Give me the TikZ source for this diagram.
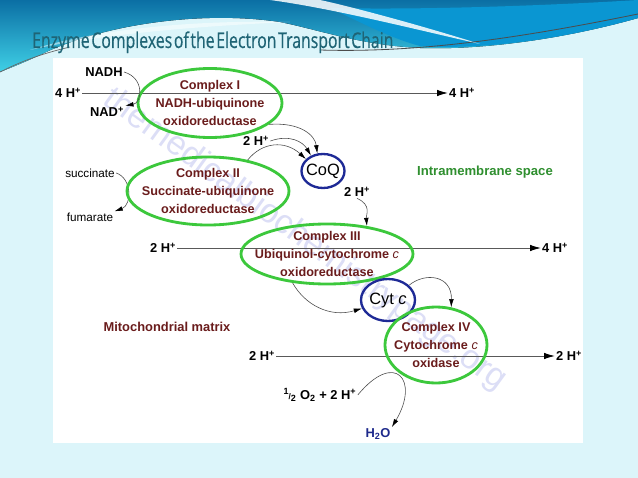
\documentclass[tikz,border=0pt]{standalone}
\usepackage{fontspec}
\setmainfont{Liberation Sans}
\newfontfamily\titlefont[FakeStretch=0.73, FakeBold=0.4, WordSpace=0.4]{Open Sans}
\usetikzlibrary{shapes.geometric,arrows.meta}
\definecolor{bgcyan}{HTML}{DCF5FA}
\definecolor{wavetop}{HTML}{0B6FA4}
\definecolor{wavedark}{HTML}{0A96D2}
\definecolor{wavemid}{HTML}{14A9C8}
\definecolor{wavelight}{HTML}{3FD0E6}
\definecolor{titleteal}{HTML}{1F6475}
\definecolor{cgreen}{HTML}{3CC83C}
\definecolor{cblue}{HTML}{1E2A96}
\definecolor{cred}{HTML}{6A1C1C}
\definecolor{cnavy}{HTML}{1E2A8C}
\definecolor{spacegreen}{HTML}{2F8F2F}
\definecolor{wmark}{HTML}{DCDEF6}
\tikzset{
    complex/.style={ellipse, draw=cgreen, line width=2.4pt,
        inner xsep=-10pt, inner ysep=-3pt, align=center, text=cred,
        font=\bfseries\fontsize{10.8}{15}\selectfont},
    carrier/.style={ellipse, draw=cblue, line width=2pt,
        inner xsep=-4pt, inner ysep=0pt, font=\fontsize{14}{16}\selectfont},
    lbl/.style={inner sep=1pt, font=\bfseries\fontsize{11}{12}\selectfont},
    flow/.style={draw=black!65, line width=0.6pt,
        -{Latex[length=9pt,width=5.5pt,black]}},
    curve/.style={draw=black!70, line width=0.5pt,
        -{Latex[length=7pt,width=4pt,black]}}
}

\begin{document}
\begin{tikzpicture}[x=0.03cm, y=-0.03cm]
  \useasboundingbox (0,0) rectangle (638,478);
  % slide background
  \fill[bgcyan] (0,0) rectangle (638,478);
  \fill[top color=wavetop, bottom color=wavelight]
    (0,0) -- (638,0) -- (638,18) .. controls (560,40) and (480,50) .. (420,48)
    .. controls (360,45) and (320,30) .. (280,22)
    .. controls (200,10) and (100,25) .. (40,55)
    .. controls (25,62) and (10,68) .. (0,72) -- cycle;
  \fill[wavedark]
    (330,8) .. controls (420,10) and (540,6) .. (638,0) -- (638,18)
    .. controls (560,40) and (480,50) .. (420,46)
    .. controls (390,38) and (360,22) .. (330,8) -- cycle;
  \fill[white, opacity=0.85]
    (270,0) .. controls (330,8) and (410,28) .. (480,44)
    .. controls (410,22) and (340,4) .. (320,0) -- cycle;
  \fill[white, opacity=0.5]
    (30,50) .. controls (100,28) and (200,20) .. (290,22)
    .. controls (200,26) and (100,34) .. (30,50) -- cycle;
  \draw[black!70, line width=0.7pt]
    (320,50) .. controls (420,53) and (520,38) .. (638,14);
  \draw[black!60, line width=0.6pt]
    (0,72) .. controls (20,62) and (40,54) .. (70,47);
  \node[anchor=base west, inner sep=0pt, text=titleteal,
    font=\titlefont\fontsize{18.5}{19}\selectfont] (title) at (32,48)
    {Enzyme Complexes of the Electron Transport Chain};

  % diagram panel
  \fill[white] (53,58) rectangle (583,443);
  \node[rotate=-36, text=wmark, font=\fontsize{29}{30}\selectfont] (wm)
    at (305,240) {themedicalbiochemistrypage.org};

  % complex I
  \node[lbl] (nadh) at (104,72) {NADH};
  \node[lbl] (hin1) at (68,93) {4 H\textsuperscript{+}};
  \node[lbl] (nad) at (107,112) {NAD\textsuperscript{+}};
  \node[lbl] (hout1) at (462,93) {4 H\textsuperscript{+}};
  \draw[flow] (hin1) -- (hout1);
  \node[complex, minimum width=4.32cm, minimum height=2.07cm] (c1)
    at (210,103) {Complex I\\NADH-ubiquinone\\oxidoreductase};
  \draw[curve] (nadh.east) .. controls (145,78) and (142,103) .. (nad.north east);

  % complex II and CoQ
  \node[inner sep=1pt, font=\fontsize{10}{11}\selectfont] (succ) at (90,173) {succinate};
  \node[lbl, font=\fontsize{10}{11}\selectfont] (fum) at (90,217) {fumarate};
  \draw[curve] (succ.east) .. controls (132,178) and (132,205) .. (fum.north east);
  \node[complex, minimum width=4.86cm, minimum height=2.04cm] (c2)
    at (208,191) {Complex II\\Succinate-ubiquinone\\oxidoreductase};
  \node[carrier, minimum width=1.29cm, minimum height=1.02cm] (coq)
    at (323,171) {CoQ};
  \node[lbl] (h2a) at (256,141) {2 H\textsuperscript{+}};
  \draw[curve] (c1.-20) .. controls (300,122) and (315,135) .. (coq.108);
  \draw[curve] (h2a.east) .. controls (290,134) and (303,142) .. (coq.128);
  \draw[curve] (c2.38) .. controls (262,142) and (285,140) .. (coq.145);
  \node[text=spacegreen, font=\bfseries\fontsize{11.2}{12}\selectfont] (ims)
    at (485,172) {Intramembrane space};

  % complex III
  \node[lbl] (h2b) at (357,192) {2 H\textsuperscript{+}};
  \node[lbl] (hin2) at (163,248) {2 H\textsuperscript{+}};
  \node[lbl] (hout2) at (555,248) {4 H\textsuperscript{+}};
  \draw[flow] (hin2) -- (hout2);
  \node[complex, minimum width=5.16cm, minimum height=1.8cm] (c3)
    at (327,254) {Complex III\\Ubiquinol-cytochrome {\mdseries\itshape c}\\oxidoreductase};
  \draw[curve] (h2b.south) .. controls (372,205) and (366,215) .. (c3.35);

  % cytochrome c and complex IV
  \node[carrier, minimum width=1.62cm, minimum height=1.26cm] (cyt)
    at (388,300) {Cyt {\itshape c}};
  \draw[curve] (c3.220) .. controls (305,305) and (330,318) .. (cyt.198);
  \node[text=cred, font=\bfseries\fontsize{11}{12}\selectfont] (mm)
    at (167,327) {Mitochondrial matrix};
  \node[lbl] (hin3) at (262,356) {2 H\textsuperscript{+}};
  \node[lbl] (hout3) at (569,356) {2 H\textsuperscript{+}};
  \draw[flow] (hin3) -- (hout3);
  \node[complex, minimum width=3.06cm, minimum height=2.28cm] (c4)
    at (436,345) {Complex IV\\Cytochrome {\mdseries\itshape c}\\oxidase};
  \draw[curve] (cyt.35) .. controls (425,272) and (452,275) .. (c4.68);
  \node[lbl] (o2) at (320,395)
    {\textsuperscript{1}\kern-0.5pt{\scriptsize/}\textsubscript{2} O\textsubscript{2} + 2 H\textsuperscript{+}};
  \node[lbl, text=cnavy] (h2o) at (378,434) {H\textsubscript{2}O};
  \draw[curve] (o2.east) .. controls (395,350) and (420,380) .. (h2o.north east);
\end{tikzpicture}
\end{document}
